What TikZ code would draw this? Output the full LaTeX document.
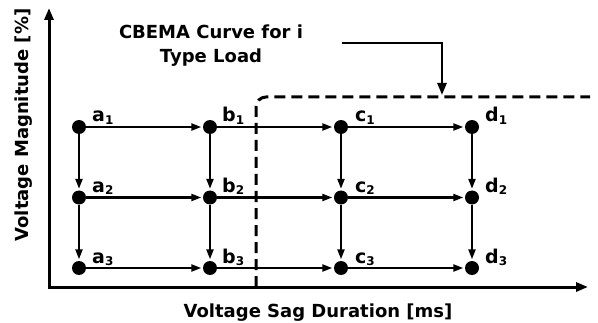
\documentclass[tikz,border=0pt]{standalone}
\usepackage{fontspec}
\setmainfont{DejaVu Sans}
\usetikzlibrary{arrows.meta,positioning}
\newcommand{\ptidx}[1]{\raisebox{-2pt}{\fontsize{12}{12}\selectfont#1}}
\tikzset{
  dot/.style={circle, fill=black, minimum size=14pt, inner sep=0pt},
  lbl/.style={anchor=base west, inner sep=0pt, font=\fontsize{19}{22}\selectfont\bfseries},
  flow/.style={-{Triangle[length=10pt,width=7pt]}, line width=2.2pt, shorten >=1.5pt},
  axis/.style={{Triangle[length=12pt,width=9pt]}-{Triangle[length=12pt,width=9pt]}, line width=3pt},
  cbema/.style={line width=3pt, dash pattern=on 11pt off 6pt, rounded corners=10pt},
  callout/.style={-{Triangle[length=12pt,width=9pt]}, line width=2.6pt},
  axtitle/.style={font=\fontsize{18}{24}\selectfont\bfseries, inner sep=0pt, align=center}
}
\begin{document}
\begin{tikzpicture}[x=1pt, y=1pt, node distance=70.5pt and 131pt, on grid]
  \useasboundingbox (0,0) rectangle (598,322);
  % axes
  \coordinate (org) at (49,35);
  \coordinate (ytop) at (49,314);
  \coordinate (xend) at (588,35);
  \draw[axis] (ytop) -- (org) -- (xend);
  \node[axtitle, anchor=base] (xlab) at (318,5) {Voltage Sag Duration [ms]};
  \node[axtitle, rotate=90, anchor=base] (ylab) at (28,197) {Voltage Magnitude [\%]};

  % CBEMA curve
  \draw[cbema] (256,35) -- (256,225) -- (590,225);
  \node[axtitle] (cbtitle) at (211,276) {CBEMA Curve for i\\Type Load};
  \coordinate (cbs) at (342,279);
  \coordinate (cbe) at (442,227);
  \draw[callout] (cbs) -| (cbe);

  % grid of states
  \node[dot] (a1) at (79,195) {};
  \node[dot, right=of a1] (b1) {};
  \node[dot, right=of b1] (c1) {};
  \node[dot, right=of c1] (d1) {};
  \node[dot, below=of a1] (a2) {};
  \node[dot, right=of a2] (b2) {};
  \node[dot, right=of b2] (c2) {};
  \node[dot, right=of c2] (d2) {};
  \node[dot, below=of a2] (a3) {};
  \node[dot, right=of a3] (b3) {};
  \node[dot, right=of b3] (c3) {};
  \node[dot, right=of c3] (d3) {};

  \node[lbl] (ta1) at ([shift={(13pt,5pt)}]a1.center) {a\ptidx{1}};
  \node[lbl] (tb1) at ([shift={(12pt,5pt)}]b1.center) {b\ptidx{1}};
  \node[lbl] (tc1) at ([shift={(14pt,5pt)}]c1.center) {c\ptidx{1}};
  \node[lbl] (td1) at ([shift={(13pt,5pt)}]d1.center) {d\ptidx{1}};
  \node[lbl] (ta2) at ([shift={(13pt,5pt)}]a2.center) {a\ptidx{2}};
  \node[lbl] (tb2) at ([shift={(12pt,5pt)}]b2.center) {b\ptidx{2}};
  \node[lbl] (tc2) at ([shift={(14pt,5pt)}]c2.center) {c\ptidx{2}};
  \node[lbl] (td2) at ([shift={(13pt,5pt)}]d2.center) {d\ptidx{2}};
  \node[lbl] (ta3) at ([shift={(13pt,5pt)}]a3.center) {a\ptidx{3}};
  \node[lbl] (tb3) at ([shift={(12pt,5pt)}]b3.center) {b\ptidx{3}};
  \node[lbl] (tc3) at ([shift={(14pt,5pt)}]c3.center) {c\ptidx{3}};
  \node[lbl] (td3) at ([shift={(13pt,5pt)}]d3.center) {d\ptidx{3}};

  \draw[flow] (a1) -- (b1);
  \draw[flow] (b1) -- (c1);
  \draw[flow] (c1) -- (d1);
  \draw[flow] (a2) -- (b2);
  \draw[flow] (b2) -- (c2);
  \draw[flow] (c2) -- (d2);
  \draw[flow] (a3) -- (b3);
  \draw[flow] (b3) -- (c3);
  \draw[flow] (c3) -- (d3);
  \draw[flow] (a1) -- (a2);
  \draw[flow] (a2) -- (a3);
  \draw[flow] (b1) -- (b2);
  \draw[flow] (b2) -- (b3);
  \draw[flow] (c1) -- (c2);
  \draw[flow] (c2) -- (c3);
  \draw[flow] (d1) -- (d2);
  \draw[flow] (d2) -- (d3);
\end{tikzpicture}
\end{document}
